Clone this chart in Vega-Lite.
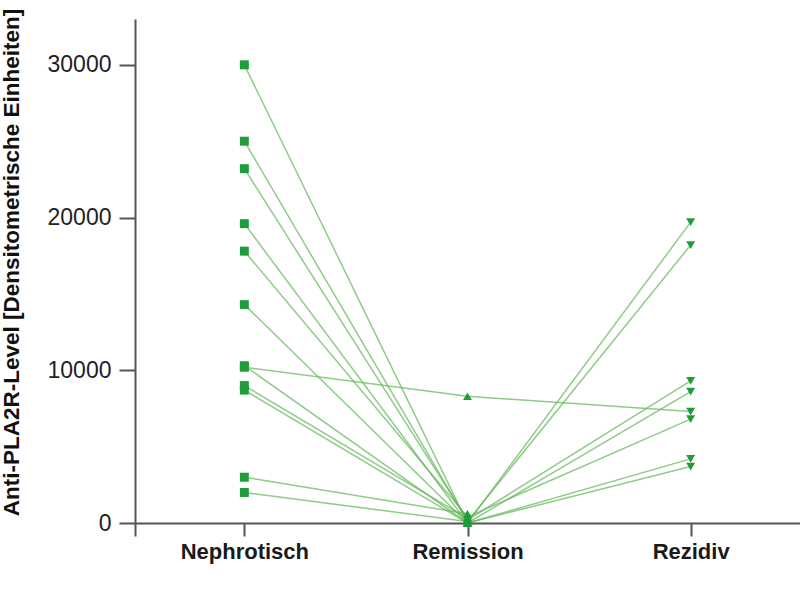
{
  "$schema": "https://vega.github.io/schema/vega-lite/v6.json",
  "autosize": "none",
  "padding": {"left": 135, "top": 19, "right": 0, "bottom": 57},
  "width": 665,
  "height": 517,
  "background": "white",
  "config": {"view": {"stroke": null}, "font": "Liberation Sans"},
  "data": {"values": [
    {"patient": 1, "phase": "Nephrotisch", "value": 30000},
    {"patient": 1, "phase": "Remission", "value": 0},
    {"patient": 1, "phase": "Rezidiv", "value": 19700},
    {"patient": 2, "phase": "Nephrotisch", "value": 25000},
    {"patient": 2, "phase": "Remission", "value": 100},
    {"patient": 2, "phase": "Rezidiv", "value": 18200},
    {"patient": 3, "phase": "Nephrotisch", "value": 23200},
    {"patient": 3, "phase": "Remission", "value": 200},
    {"patient": 3, "phase": "Rezidiv", "value": 9300},
    {"patient": 4, "phase": "Nephrotisch", "value": 19600},
    {"patient": 4, "phase": "Remission", "value": 0},
    {"patient": 4, "phase": "Rezidiv", "value": 8600},
    {"patient": 5, "phase": "Nephrotisch", "value": 17800},
    {"patient": 5, "phase": "Remission", "value": 400},
    {"patient": 5, "phase": "Rezidiv", "value": 6800},
    {"patient": 6, "phase": "Nephrotisch", "value": 14300},
    {"patient": 6, "phase": "Remission", "value": 0},
    {"patient": 6, "phase": "Rezidiv", "value": 4200},
    {"patient": 7, "phase": "Nephrotisch", "value": 10200},
    {"patient": 7, "phase": "Remission", "value": 8300},
    {"patient": 7, "phase": "Rezidiv", "value": 7300},
    {"patient": 8, "phase": "Nephrotisch", "value": 10300},
    {"patient": 8, "phase": "Remission", "value": 0},
    {"patient": 8, "phase": "Rezidiv", "value": 3700},
    {"patient": 9, "phase": "Nephrotisch", "value": 9000},
    {"patient": 9, "phase": "Remission", "value": 300},
    {"patient": 10, "phase": "Nephrotisch", "value": 8700},
    {"patient": 10, "phase": "Remission", "value": 0},
    {"patient": 11, "phase": "Nephrotisch", "value": 3000},
    {"patient": 11, "phase": "Remission", "value": 600},
    {"patient": 12, "phase": "Nephrotisch", "value": 2000},
    {"patient": 12, "phase": "Remission", "value": 100}
  ]},
  "encoding": {
    "x": {
      "field": "phase", "type": "ordinal",
      "sort": ["Nephrotisch", "Remission", "Rezidiv"],
      "scale": {"type": "point", "padding": 0.49},
      "axis": {
        "title": null, "offset": -13, "labelAngle": 0,
        "tickSize": 13, "tickWidth": 2, "tickColor": "#555",
        "domainWidth": 2, "domainColor": "#555",
        "labelPadding": 5, "labelFontSize": 22, "labelFontWeight": "bold",
        "labelColor": "#1a1a1a", "grid": false
      }
    },
    "y": {
      "field": "value", "type": "quantitative",
      "scale": {"domain": [-850, 33000], "nice": false, "zero": false},
      "axis": {
        "title": "Anti-PLA2R-Level [Densitometrische Einheiten]",
        "values": [0, 10000, 20000, 30000], "format": "d",
        "tickSize": 16, "tickWidth": 2, "tickColor": "#555",
        "domainWidth": 2, "domainColor": "#555",
        "labelPadding": 8, "labelFontSize": 23, "labelColor": "#222",
        "titleFontSize": 22.5, "titleFontWeight": "bold", "titleColor": "#111",
        "titleY": 243, "titlePadding": 24, "grid": false
      }
    }
  },
  "layer": [
    {
      "mark": {"type": "line", "stroke": "#5fb555", "strokeWidth": 1.5, "opacity": 0.7},
      "encoding": {"detail": {"field": "patient"}}
    },
    {
      "mark": {"type": "point", "filled": true, "opacity": 1, "color": "#1f9c3b"},
      "encoding": {
        "shape": {
          "field": "phase", "type": "nominal",
          "scale": {"domain": ["Nephrotisch", "Remission", "Rezidiv"], "range": ["square", "triangle-up", "triangle-down"]},
          "legend": null
        },
        "size": {"value": 80}
      }
    }
  ]
}
